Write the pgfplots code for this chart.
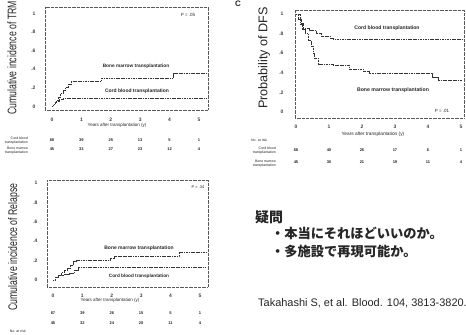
\documentclass[border=0pt]{standalone}
\usepackage{pgfplots}
\pgfplotsset{compat=1.18}
\usepackage{fontspec}
\usepackage{graphicx}
\setmainfont{Liberation Sans}
\newfontfamily\jp{Noto Sans CJK JP}
\pgfplotsset{km/.style={scale only axis, anchor=south west,
  axis line style={black!65, dash pattern=on 0.7pt off 0.6pt, line width=0.75pt},
  tick style={draw=none},
  ticklabel style={font=\fontsize{5}{6}\selectfont\bfseries, text=black!75},
  /pgf/number format/assume math mode=true,
  xtick={0,1,2,3,4,5},
  ytick={0,0.2,0.4,0.6,0.8,1}, yticklabels={0,.2,.4,.6,.8,1},
  clip=false},
  crv/.style={const plot, black!80, line width=0.75pt, dash pattern=on 1.2pt off 0.5pt}}
\begin{document}
\begin{tikzpicture}
\useasboundingbox (0,0) rectangle (466bp,335bp);
\clip (0,0) rectangle (466bp,335bp);
\fill[white] (0,0) rectangle (466bp,335bp);

% ---------- TRM ----------
\begin{axis}[km, at={(45bp,225bp)}, width=163bp, height=103bp,
  xmin=-0.24, xmax=5.31, ymin=-0.04, ymax=1.07,
  yticklabel style={xshift=-6bp}, xticklabel style={yshift=-4.5bp}]
\addplot[crv] coordinates {(0,0) (0.05,0.02) (0.1,0.04) (0.15,0.06) (0.22,0.1) (0.3,0.14) (0.37,0.17) (0.45,0.2) (0.55,0.24) (0.66,0.27) (1.68,0.30) (4.12,0.35) (5.25,0.35)};
\addplot[crv] coordinates {(0,0) (0.05,0.02) (0.1,0.04) (0.15,0.05) (0.25,0.07) (0.37,0.08) (5.25,0.08)};
\end{axis}

% ---------- Relapse ----------
\begin{axis}[km, at={(47bp,48bp)}, width=161bp, height=107bp,
  xmin=-0.2, xmax=5.27, ymin=-0.07, ymax=1.03,
  yticklabel style={xshift=-6bp}, xticklabel style={yshift=-3.5bp}]
\addplot[crv] coordinates {(0,0) (0.1,0.03) (0.2,0.05) (0.3,0.08) (0.4,0.1) (0.5,0.12) (0.6,0.15) (0.7,0.19) (0.8,0.20) (1.95,0.22) (2.1,0.24) (4.3,0.29) (5.2,0.29)};
\addplot[crv] coordinates {(0,0) (0.1,0.03) (0.2,0.05) (0.4,0.06) (0.55,0.07) (0.74,0.10) (0.85,0.13) (5.2,0.13)};
\end{axis}

% ---------- DFS ----------
\begin{axis}[km, at={(295bp,217bp)}, width=169bp, height=108bp,
  xmin=-0.03, xmax=5.09, ymin=-0.06, ymax=1.04,
  yticklabel style={xshift=-8bp}, xticklabel style={yshift=-3.5bp}]
\addplot[crv] coordinates {(0,1) (0.07,0.94) (0.15,0.9) (0.22,0.85) (0.42,0.83) (0.62,0.80) (0.77,0.775) (1.03,0.75) (1.13,0.74) (5.05,0.74)};
\addplot[crv] coordinates {(0,1) (0.12,0.89) (0.2,0.84) (0.27,0.80) (0.37,0.73) (0.47,0.67) (0.52,0.6) (0.57,0.55) (0.67,0.49) (1.13,0.48) (1.63,0.44) (2.03,0.41) (2.23,0.39) (4.14,0.35) (4.3,0.32) (5.05,0.32)};
\end{axis}

\begin{scope}[shift={(0bp,335bp)}, x=1bp, y=-1bp, every node/.style={text=black!85, inner sep=0pt}]
% axis titles
\node[rotate=90] at (12,58) {\scalebox{0.7}[1]{\fontsize{12.5}{14}\selectfont Cumulative incidence of TRM}};
\node[rotate=90] at (14,247) {\scalebox{0.7}[1]{\fontsize{12.5}{14}\selectfont Cumulative incidence of Relapse}};
\node[rotate=90] at (264,58) {\fontsize{12.7}{14}\selectfont Probability of DFS};
\node[font=\fontsize{8}{9}\selectfont\bfseries] at (238,4) {C};
% x labels
\node[font=\fontsize{4.5}{5}\selectfont] at (117,125) {Years after transplantation (y)};
\node[font=\fontsize{4.8}{5}\selectfont] at (373,134) {Years after transplantation (y)};
\node[font=\fontsize{4.5}{5}\selectfont] at (110,300) {Years after transplantation (y)};
% P values
\node[font=\fontsize{4.5}{5}\selectfont] at (188,15) {P = .05};
\node[font=\fontsize{4.5}{5}\selectfont] at (442,111) {P = .01};
\node[font=\fontsize{4}{5}\selectfont] at (198,187) {P = .34};
% curve labels
\node[font=\fontsize{4.8}{5}\selectfont\bfseries] at (136,66) {Bone marrow transplantation};
\node[font=\fontsize{5}{5}\selectfont\bfseries] at (137,91) {Cord blood transplantation};
\node[font=\fontsize{5}{5}\selectfont\bfseries] at (139,248) {Bone marrow transplantation};
\node[font=\fontsize{4.7}{5}\selectfont\bfseries] at (139,276) {Cord blood transplantation};
\node[font=\fontsize{5.1}{6}\selectfont\bfseries] at (387,28) {Cord blood transplantation};
\node[font=\fontsize{5.2}{6}\selectfont\bfseries] at (393,90) {Bone marrow transplantation};
% number at risk tables
\begin{scope}[every node/.append style={font=\fontsize{4}{4}\selectfont\bfseries}]
\foreach \v [count=\i from 0] in {68,39,25,13,5,1} \node at (52+29.4*\i,140) {\v};
\foreach \v [count=\i from 0] in {45,33,27,23,12,4} \node at (52+29.4*\i,149) {\v};
\foreach \v [count=\i from 0] in {68,40,26,17,6,1} \node at (296+33*\i,150) {\v};
\foreach \v [count=\i from 0] in {45,30,21,19,11,4} \node at (296+33*\i,162) {\v};
\foreach \v [count=\i from 0] in {67,39,26,15,5,1} \node at (53+29.4*\i,313) {\v};
\foreach \v [count=\i from 0] in {45,32,24,20,11,4} \node at (53+29.4*\i,323) {\v};
\end{scope}
\begin{scope}[every node/.append style={font=\fontsize{3.5}{4}\selectfont, align=right, anchor=east}]
\node at (28,141) {Cord blood\\transplantation};
\node at (28,151) {Bone marrow\\transplantation};
\node at (276,151) {Cord blood\\transplantation};
\node at (276,164) {Bone marrow\\transplantation};
\node[anchor=west] at (251,140) {No. at risk};
\node at (26,331) {No. at risk};
\end{scope}
% Japanese text
\node[anchor=west, font=\jp\bfseries\fontsize{14}{16}\selectfont] at (255,217) {疑問};
\node[anchor=west, font=\jp\bfseries\fontsize{13.3}{15}\selectfont] at (271,233) {・本当にそれほどいいのか。};
\node[anchor=west, font=\jp\bfseries\fontsize{13.3}{15}\selectfont] at (271,251) {・多施設で再現可能か。};
\node[anchor=west, font=\fontsize{11}{12}\selectfont] at (258,303) {Takahashi S, et al. Blood. 104, 3813-3820.};
\end{scope}
\end{tikzpicture}
\end{document}
